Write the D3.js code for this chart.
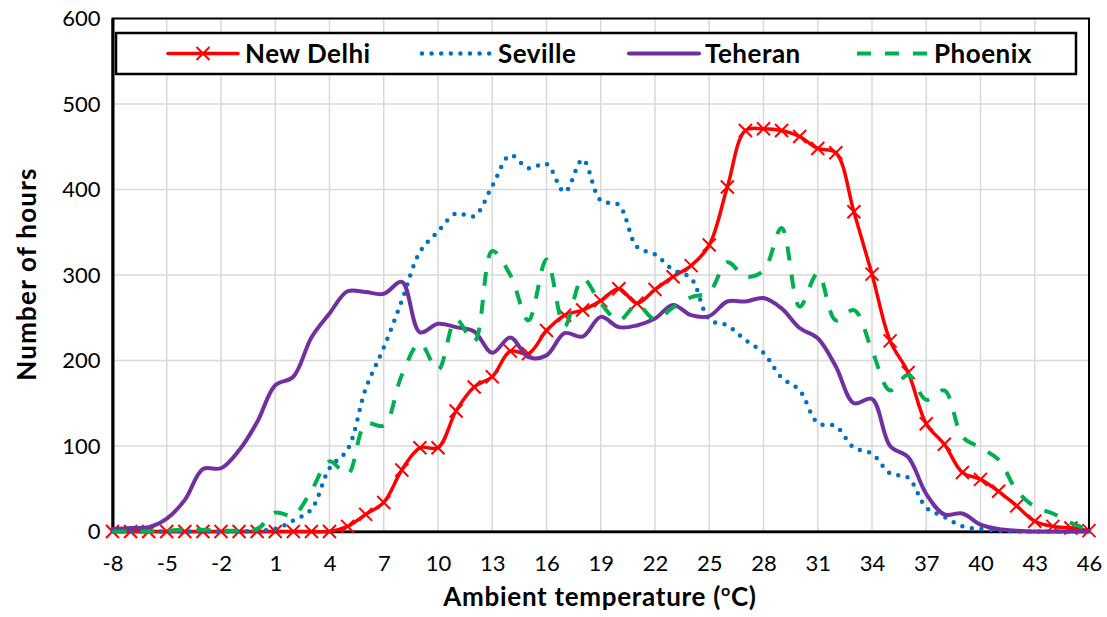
<!DOCTYPE html>
<html>
<head>
<meta charset="utf-8">
<script src="https://cdn.jsdelivr.net/npm/d3@7/dist/d3.min.js"></script>
<style>
  html, body { margin: 0; padding: 0; background: #fff; }
  svg { display: block; }
  text { font-family: Lato, "Open Sans", "Liberation Sans", sans-serif; fill: #000; }
</style>
</head>
<body>
<svg id="chart" width="1107" height="617"></svg>
<script>
// Hourly temperature distribution, one value per degree Celsius
const temperatures = [-8,-7,-6,-5,-4,-3,-2,-1,0,1,2,3,4,5,6,7,8,9,10,11,12,13,14,15,16,17,18,19,20,
  21,22,23,24,25,26,27,28,29,30,31,32,33,34,35,36,37,38,39,40,41,42,43,44,45,46];

const newDelhi = [0,0,0,0,0,0,0,0,0,0,0,0,0,6,20,34,72,98,98,141,169,181,211,208,235,253,259,270,284,
  267,283,298,311,335,403,469,471,469,462,448,443,374,301,223,186,126,102,69,61,47,30,12,6,4,1];

const seville = [0,0,0,0,0,0,0,0,1,3,13,26,74,96,167,215,270,327,351,372,369,404,440,425,430,397,435,387,382,
  333,324,306,296,248,241,224,209,180,165,127,123,98,91,68,63,28,17,6,3,1,0,0,0,0,0];

const teheran = [3,4,5,15,37,73,74,95,128,171,181,227,255,281,280,278,292,233,243,239,234,209,227,204,206,232,228,251,239,
  241,249,265,253,252,269,269,273,261,238,226,193,150,155,100,87,44,20,21,8,3,1,0,0,0,0];

const phoenix = [0,0,0,1,2,2,1,1,3,22,19,48,82,67,126,124,183,220,189,248,222,328,300,247,318,240,296,267,247,
  265,248,262,274,280,315,298,305,355,263,302,247,259,212,165,183,154,165,111,98,84,48,29,21,10,2];

const xTicks = [-8,-5,-2,1,4,7,10,13,16,19,22,25,28,31,34,37,40,43,46];
const yTicks = [0,100,200,300,400,500,600];

const seriesNames = ["New Delhi", "Seville", "Teheran", "Phoenix"];

const svg = d3.select("#chart");
const plotLeft = 112.5, plotRight = 1089, plotTop = 18.5, plotBottom = 531.5;

const x = d3.scaleLinear().domain([-8, 46]).range([plotLeft, plotRight]);
const y = d3.scaleLinear().domain([0, 600]).range([plotBottom, plotTop]);

// grid
const grid = svg.append("g").attr("stroke", "#d9d9d9").attr("stroke-width", 1.5);
grid.selectAll("line.v").data(xTicks.slice(1, -1)).join("line").attr("class", "v")
  .attr("x1", d => x(d)).attr("x2", d => x(d)).attr("y1", plotTop).attr("y2", plotBottom);
grid.selectAll("line.h").data(yTicks.slice(1, -1)).join("line").attr("class", "h")
  .attr("y1", d => y(d)).attr("y2", d => y(d)).attr("x1", plotLeft).attr("x2", plotRight);

// plot frame
svg.append("rect").attr("x", plotLeft).attr("y", plotTop)
  .attr("width", plotRight - plotLeft).attr("height", plotBottom - plotTop)
  .attr("fill", "none").attr("stroke", "#000").attr("stroke-width", 2);

// axes
const xAxis = svg.append("g").attr("transform", `translate(0,${plotBottom})`)
  .call(d3.axisBottom(x).tickValues(xTicks).tickSize(0).tickPadding(24).tickFormat(d => d));
xAxis.select(".domain").attr("stroke", "#000").attr("stroke-width", 2.5);
xAxis.selectAll("text").attr("font-size", 22).attr("font-family", "Lato, sans-serif").attr("fill", "#000");

const yAxis = svg.append("g").attr("transform", `translate(${plotLeft},0)`)
  .call(d3.axisLeft(y).tickValues(yTicks).tickSize(0).tickPadding(12).tickFormat(d => d));
yAxis.select(".domain").attr("stroke", "#000").attr("stroke-width", 3);
yAxis.selectAll("text").attr("font-size", 22).attr("font-family", "Lato, sans-serif").attr("fill", "#000");

// axis titles
const xt = svg.append("text").attr("x", 600).attr("y", 606).attr("text-anchor", "middle")
  .attr("font-size", 26).attr("font-weight", "bold").attr("letter-spacing", 0.7);
xt.append("tspan").text("Ambient temperature (");
xt.append("tspan").attr("font-size", 16).attr("dy", -10).text("o");
xt.append("tspan").attr("dy", 10).text("C)");

svg.append("text").attr("transform", "translate(36,274) rotate(-90)").attr("text-anchor", "middle")
  .attr("font-size", 26).attr("font-weight", "bold").attr("letter-spacing", 1.2).text("Number of hours");

// series
const line = d3.line().x((d, i) => x(temperatures[i])).y(d => y(d)).curve(d3.curveCatmullRom.alpha(0.5));

const styles = [
  { data: newDelhi, color: "#ff0000", width: 3.5, dash: null, cap: "round" },
  { data: seville,  color: "#0070c0", width: 4.5, dash: "0,9.6", cap: "round" },
  { data: teheran,  color: "#7030a0", width: 4,   dash: null, cap: "round" },
  { data: phoenix,  color: "#00b050", width: 4,   dash: "14,14", cap: "butt" }
];

const plot = svg.append("g");
styles.forEach((s, k) => {
  plot.append("path").datum(s.data).attr("d", line)
    .attr("fill", "none").attr("stroke", s.color).attr("stroke-width", s.width)
    .attr("stroke-linecap", s.cap).attr("stroke-linejoin", "round")
    .attr("stroke-dasharray", s.dash);
  if (k === 0) {
    const m = 6.5;
    plot.append("g").selectAll("path").data(s.data).join("path")
      .attr("d", (d, i) => {
        const cx = x(temperatures[i]), cy = y(d);
        return `M${cx - m},${cy - m}L${cx + m},${cy + m}M${cx - m},${cy + m}L${cx + m},${cy - m}`;
      })
      .attr("stroke", s.color).attr("stroke-width", 2).attr("fill", "none");
  }
});

// legend
const lg = svg.append("g");
lg.append("rect").attr("x", 116).attr("y", 33).attr("width", 960).attr("height", 41)
  .attr("fill", "#fff").attr("stroke", "#000").attr("stroke-width", 2.5);
const legendPos = [
  { x1: 168, x2: 238, tx: 245 },
  { x1: 422, x2: 490, tx: 498 },
  { x1: 629, x2: 699, tx: 705 },
  { x1: 857, x2: 928, tx: 934 }
];
const ly = 53.5;
legendPos.forEach((p, k) => {
  const s = styles[k];
  lg.append("line").attr("x1", p.x1).attr("x2", p.x2).attr("y1", ly).attr("y2", ly)
    .attr("stroke", s.color).attr("stroke-width", s.width)
    .attr("stroke-linecap", s.cap).attr("stroke-dasharray", s.dash);
  if (k === 0) {
    const cx = (p.x1 + p.x2) / 2, m = 6.5;
    lg.append("path").attr("d", `M${cx - m},${ly - m}L${cx + m},${ly + m}M${cx - m},${ly + m}L${cx + m},${ly - m}`)
      .attr("stroke", s.color).attr("stroke-width", 2);
  }
  lg.append("text").attr("x", p.tx).attr("y", ly + 9).attr("font-size", 26).attr("font-weight", "bold")
    .attr("letter-spacing", 0.5).text(seriesNames[k]);
});
</script>
</body>
</html>
